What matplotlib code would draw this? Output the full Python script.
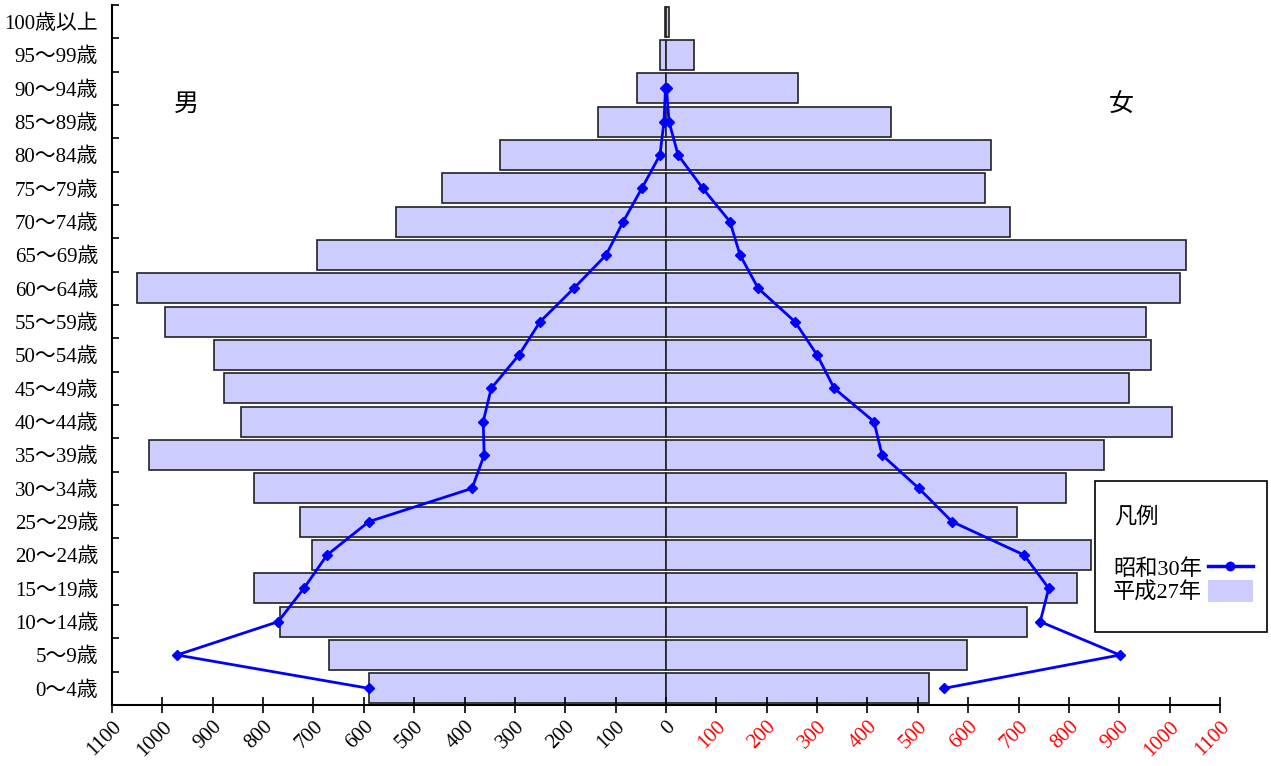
import matplotlib
matplotlib.use("Agg")
import matplotlib.pyplot as plt
import numpy as np
from matplotlib.lines import Line2D
from matplotlib.patches import Patch, Rectangle

plt.rcParams['font.family'] = ['Liberation Serif', 'Noto Sans CJK JP']

ages = ['0～4歳', '5～9歳', '10～14歳', '15～19歳', '20～24歳', '25～29歳',
        '30～34歳', '35～39歳', '40～44歳', '45～49歳', '50～54歳', '55～59歳',
        '60～64歳', '65～69歳', '70～74歳', '75～79歳', '80～84歳', '85～89歳',
        '90～94歳', '95～99歳', '100歳以上']

# 平成27年 (bars)
male_h27 = [590, 669, 767, 818, 703, 727, 818, 1027, 844, 878, 898, 995,
            1050, 693, 536, 445, 330, 135, 58, 12, 1]
female_h27 = [522, 598, 717, 816, 844, 697, 794, 870, 1005, 919, 963, 953,
              1021, 1033, 683, 633, 645, 447, 262, 56, 6]

# 昭和30年 (line), up to 90-94
male_s30 = [590, 971, 770, 719, 673, 590, 385, 361, 363, 347, 292, 250,
            183, 119, 85, 48, 12, 4, 1]
female_s30 = [552, 901, 743, 760, 711, 568, 502, 429, 413, 334, 300, 256,
              183, 147, 127, 73, 24, 6, 1]

ticks = list(range(-1100, 1101, 100))


def main():
    fig = plt.figure(figsize=(12.71, 7.66), dpi=100)
    ax = fig.add_axes([112 / 1271, 1 - 705 / 766, (1220 - 112) / 1271, 700 / 766])

    y = np.arange(len(ages))
    bar_kw = dict(height=0.9, color='#ccccff', edgecolor='#222222', linewidth=1.2)
    ax.barh(y, -np.array(male_h27), **bar_kw)
    ax.barh(y, female_h27, **bar_kw)

    ys = np.arange(len(male_s30))
    line_kw = dict(color='#0000ff', linewidth=2, marker='D', markersize=5)
    ax.plot(-np.array(male_s30), ys, **line_kw)
    ax.plot(female_s30, ys, **line_kw)

    ax.set_xlim(-1100, 1100)
    ax.set_ylim(-0.5, len(ages) - 0.5)

    ax.set_xticks(ticks)
    ax.set_xticklabels([str(abs(t)) for t in ticks], rotation=45,
                       ha='right', va='top', rotation_mode='anchor', fontsize=15)
    for t, lab in zip(ticks, ax.get_xticklabels()):
        lab.set_color('red' if t > 0 else 'black')
    ax.tick_params(axis='x', direction='inout', length=12, width=1.2, pad=3)

    ax.set_yticks(y)
    ax.set_yticklabels(ages, fontsize=15)
    ax.set_yticks(np.arange(-0.5, len(ages), 1), minor=True)
    ax.tick_params(axis='y', which='major', length=0, pad=10)
    ax.tick_params(axis='y', which='minor', direction='in', length=5, width=1.2)

    ax.spines['top'].set_visible(False)
    ax.spines['right'].set_visible(False)
    for s in ('left', 'bottom'):
        ax.spines[s].set_linewidth(1.5)

    fig.text(186 / 1271, 1 - 105 / 766, '男', fontsize=18, ha='center', va='center')
    fig.text(1121 / 1271, 1 - 105 / 766, '女', fontsize=18, ha='center', va='center')

    # legend box
    fig.patches.append(Rectangle((1095 / 1271, 1 - 632 / 766), 172 / 1271, 151 / 766,
                                 transform=fig.transFigure, fill=False,
                                 edgecolor='black', linewidth=1.2))
    fig.text(1114 / 1271, 1 - 518 / 766, '凡例', fontsize=16, va='center')
    handles = [Line2D([0], [0], color='#0000ff', linewidth=2.5, marker='o', markersize=6),
               Patch(facecolor='#ccccff', edgecolor='none')]
    fig.legend(handles, ['昭和30年', '平成27年'], loc='upper left',
               bbox_to_anchor=(1113 / 1271, 1 - 557 / 766), frameon=False,
               markerfirst=False, fontsize=16, labelspacing=0.0,
               handlelength=2.05, handleheight=1.1, handletextpad=0.25,
               borderpad=0, borderaxespad=0)

    fig.savefig('out.png', dpi=100)


if __name__ == "__main__":
    main()
